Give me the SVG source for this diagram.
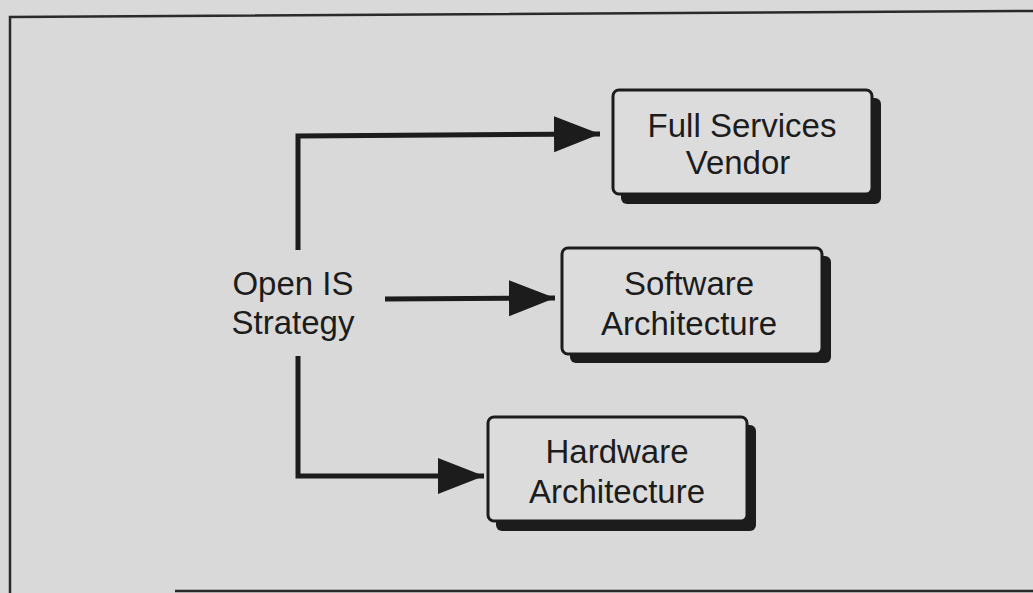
<svg xmlns="http://www.w3.org/2000/svg" width="1033" height="593" viewBox="0 0 1033 593">
<defs>
<style>
.frame{fill:none;stroke:#2a2a2a;stroke-width:2.5}
.shadow{fill:#1c1c1c}
.box{fill:#dcdcdc;stroke:#1c1c1c;stroke-width:3}
.lbl{font-family:"Liberation Sans",Arial,sans-serif;font-size:33px;fill:#1c1c1c;text-anchor:middle}
.conn{fill:none;stroke:#1c1c1c;stroke-width:5;stroke-linejoin:miter}
</style>
<marker id="arr" markerUnits="userSpaceOnUse" markerWidth="46" markerHeight="40" refX="46" refY="20" orient="auto">
<path d="M0,2 L46,20 L0,38 Z" fill="#1c1c1c"/>
</marker>
</defs>
<rect width="1033" height="593" fill="#d9d9d9"/>
<g id="frame">
<path class="frame" d="M10,593 L10,17 L1033,11"/>
<path class="frame" d="M175,591 L1033,591"/>
</g>
<g id="connectors">
<path class="conn" d="M298,250 L298,136 L600,134" marker-end="url(#arr)"/>
<path class="conn" d="M385,299 L555,298" marker-end="url(#arr)"/>
<path class="conn" d="M298,356 L298,476 L484,476" marker-end="url(#arr)"/>
</g>
<g id="strategy">
<text class="lbl" x="293" y="295">Open IS</text>
<text class="lbl" x="293" y="334">Strategy</text>
</g>
<g id="vendor">
<rect class="shadow" x="621" y="98" width="260" height="106" rx="6"/>
<rect class="box" x="613" y="90" width="259" height="104" rx="6"/>
<text class="lbl" x="742" y="137">Full Services</text>
<text class="lbl" x="738" y="174">Vendor</text>
</g>
<g id="software">
<rect class="shadow" x="570" y="256" width="261" height="107" rx="6"/>
<rect class="box" x="562" y="248" width="260" height="106" rx="6"/>
<text class="lbl" x="689" y="295">Software</text>
<text class="lbl" x="689" y="335">Architecture</text>
</g>
<g id="hardware">
<rect class="shadow" x="496" y="425" width="260" height="106" rx="6"/>
<rect class="box" x="488" y="417" width="259" height="104" rx="6"/>
<text class="lbl" x="617" y="463">Hardware</text>
<text class="lbl" x="617" y="503">Architecture</text>
</g>
</svg>
